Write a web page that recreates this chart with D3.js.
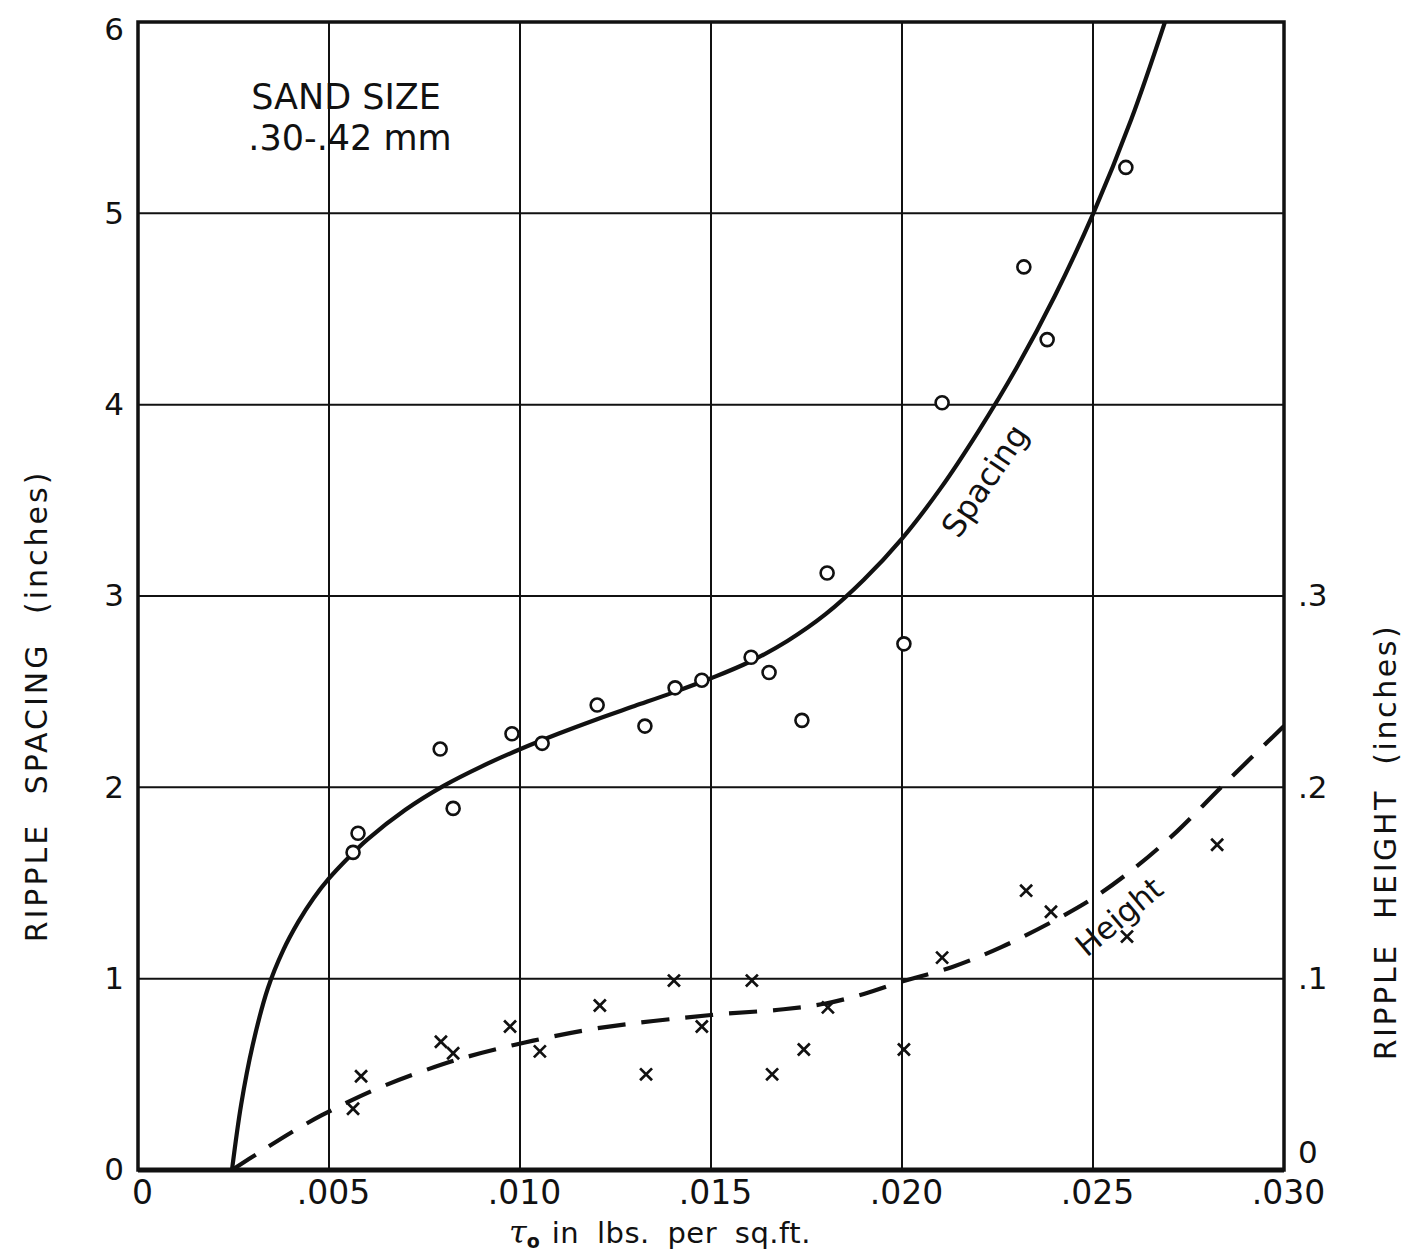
<!DOCTYPE html>
<html>
<head>
<meta charset="utf-8">
<script src="https://cdn.jsdelivr.net/npm/d3@7"></script>
<style>
  body { margin: 0; background: #fff; }
  text { font-family: "DejaVu Sans", sans-serif; fill: #111; }
</style>
</head>
<body>
<svg id="chart" width="1403" height="1252"></svg>
<script>
// shear stress (lbs per sq ft) for the spacing circles
var spacingX = [.00563, .00576, .00791, .00825, .00979, .01058, .01202, .01327, .01406, .01476,
                .01605, .01652, .01738, .01804, .02005, .02105, .02319, .02380, .02586];
var spacingY = [1.66, 1.76, 2.20, 1.89, 2.28, 2.23, 2.43, 2.32, 2.52, 2.56,
                2.68, 2.60, 2.35, 3.12, 2.75, 4.01, 4.72, 4.34, 5.24];

// ripple height crosses (inches, right axis)
var heightX = [.00563, .00584, .00793, .00825, .00974, .01052, .01209, .01330, .01403, .01476,
               .01607, .01660, .01743, .01806, .02005, .02105, .02325, .02390, .02589, .02825];
var heightY = [.032, .049, .067, .061, .075, .062, .086, .050, .099, .075,
               .099, .050, .063, .085, .063, .111, .146, .135, .122, .170];

// fitted curves as drawn on the sheet
var spacingCurveX = [.00246, .0027, .0030, .0034, .0038, .0042, .0046, .0050, .0055, .0060, .0070,
                     .0080, .0090, .0100, .0110, .0120, .0130, .0140, .0150, .0160, .0170, .0180,
                     .0190, .0200, .0210, .0220, .0230, .0240, .0250, .0260, .0270];
var spacingCurveY = [0, .342, .651, .950, 1.148, 1.298, 1.422, 1.524, 1.631, 1.727, 1.883,
                     2.008, 2.110, 2.199, 2.280, 2.355, 2.425, 2.495, 2.570, 2.655, 2.765, 2.905,
                     3.085, 3.300, 3.560, 3.861, 4.193, 4.568, 4.996, 5.490, 6.070];

var heightCurveX = [.00246, .0032, .0040, .0048, .0056, .0065, .0075, .0085, .0101, .0120, .0150,
                    .0169, .0180, .0190, .0200, .0213, .0226, .0240, .0250, .0261, .0272, .0284, .0300];
var heightCurveY = [0, .0095, .0195, .0285, .0365, .0445, .0520, .0585, .0665, .0740, .0810,
                    .0840, .0870, .0920, .0985, .1060, .1165, .1305, .1420, .1580, .1770, .2010, .2320];

var xTicks = [0, .005, .010, .015, .020, .025, .030];
var yTicks = [0, 1, 2, 3, 4, 5, 6];
var y2Ticks = [0, .1, .2, .3];

var svg = d3.select("#chart");
svg.append("rect").attr("width", 1403).attr("height", 1252).attr("fill", "#fff");

var x = d3.scaleLinear().domain([0, 0.030]).range([138, 1284]);
var y = d3.scaleLinear().domain([0, 6]).range([1170, 22]);
var y2 = d3.scaleLinear().domain([0, 0.6]).range([1170, 22]);

svg.append("clipPath").attr("id", "plotclip")
    .append("rect")
    .attr("x", x(0)).attr("y", y(6))
    .attr("width", x(0.030) - x(0)).attr("height", y(0) - y(6));

// grid
var grid = svg.append("g").attr("stroke", "#111").attr("stroke-width", 2);
grid.selectAll("line.v")
    .data(xTicks.slice(1, -1))
    .enter().append("line")
        .attr("x1", function(d) { return x(d); })
        .attr("x2", function(d) { return x(d); })
        .attr("y1", y(6)).attr("y2", y(0));
grid.selectAll("line.h")
    .data(yTicks.slice(1, -1))
    .enter().append("line")
        .attr("x1", x(0)).attr("x2", x(0.030))
        .attr("y1", function(d) { return y(d); })
        .attr("y2", function(d) { return y(d); });

// frame
svg.append("rect")
    .attr("x", x(0)).attr("y", y(6))
    .attr("width", x(0.030) - x(0)).attr("height", y(0) - y(6))
    .attr("fill", "none").attr("stroke", "#111").attr("stroke-width", 3.5);
svg.append("line")
    .attr("x1", x(0)).attr("x2", x(0.030))
    .attr("y1", y(0)).attr("y2", y(0))
    .attr("stroke", "#111").attr("stroke-width", 5);

// axes (labels only)
var xAxis = svg.append("g")
    .attr("transform", "translate(4, 1170)")
    .call(d3.axisBottom(x).tickValues(xTicks).tickSize(0)
        .tickFormat(function(d) { return d === 0 ? "0" : d3.format(".3f")(d).replace(/^0/, ""); }));
xAxis.select(".domain").remove();
xAxis.selectAll("text").attr("y", 34).attr("dy", 0)
    .style("font-size", "33px").style("font-family", "DejaVu Sans").attr("fill", "#111");

var yAxis = svg.append("g")
    .attr("transform", "translate(124, 0)")
    .call(d3.axisLeft(y).tickValues(yTicks).tickSize(0).tickFormat(d3.format("d")));
yAxis.select(".domain").remove();
yAxis.selectAll("text").attr("x", 0)
    .style("font-size", "31px").style("font-family", "DejaVu Sans").attr("fill", "#111");
yAxis.selectAll(".tick").filter(function(d) { return d === 6; })
    .select("text").attr("dy", "0.55em");

var y2Axis = svg.append("g")
    .attr("transform", "translate(1298, 0)")
    .call(d3.axisRight(y2).tickValues(y2Ticks).tickSize(0)
        .tickFormat(function(d) { return d === 0 ? "0" : "." + Math.round(d * 10); }));
y2Axis.select(".domain").remove();
y2Axis.selectAll("text").attr("x", 0)
    .style("font-size", "31px").style("font-family", "DejaVu Sans").attr("fill", "#111");
y2Axis.selectAll(".tick").filter(function(d) { return d === 0; })
    .select("text").attr("dy", "-0.25em");

// curves
var spacingLine = d3.line()
    .x(function(d) { return x(d[0]); })
    .y(function(d) { return y(d[1]); })
    .curve(d3.curveCatmullRom.alpha(0.5));
var heightLine = d3.line()
    .x(function(d) { return x(d[0]); })
    .y(function(d) { return y2(d[1]); })
    .curve(d3.curveCatmullRom.alpha(0.5));

var curves = svg.append("g").attr("clip-path", "url(#plotclip)");
curves.append("path")
    .datum(d3.zip(spacingCurveX, spacingCurveY))
    .attr("d", spacingLine)
    .attr("fill", "none").attr("stroke", "#111").attr("stroke-width", 4.2);
curves.append("path")
    .datum(d3.zip(heightCurveX, heightCurveY))
    .attr("d", heightLine)
    .attr("fill", "none").attr("stroke", "#111").attr("stroke-width", 4.2)
    .attr("stroke-dasharray", "28,16");

// points
svg.append("g")
    .selectAll("circle")
    .data(d3.zip(spacingX, spacingY))
    .enter().append("circle")
        .attr("cx", function(d) { return x(d[0]); })
        .attr("cy", function(d) { return y(d[1]); })
        .attr("r", 6.5)
        .attr("fill", "#fff").attr("stroke", "#111").attr("stroke-width", 2.6);

svg.append("g")
    .selectAll("path")
    .data(d3.zip(heightX, heightY))
    .enter().append("path")
        .attr("transform", function(d) { return "translate(" + x(d[0]) + "," + y2(d[1]) + ")"; })
        .attr("d", d3.symbol(d3.symbolTimes, 95))
        .attr("fill", "none").attr("stroke", "#111").attr("stroke-width", 2.7);

// annotations
var note = svg.append("g").style("font-size", "35px");
note.append("text").attr("x", 346).attr("y", 109).attr("text-anchor", "middle").text("SAND SIZE");
note.append("text").attr("x", 350).attr("y", 150).attr("text-anchor", "middle").text(".30-.42 mm");

svg.append("text")
    .attr("transform", "translate(994, 487) rotate(-56)")
    .attr("text-anchor", "middle")
    .style("font-size", "32px")
    .text("Spacing");
svg.append("text")
    .attr("transform", "translate(1126, 925) rotate(-40)")
    .attr("text-anchor", "middle")
    .style("font-size", "31px")
    .text("Height");

// axis titles
svg.append("text")
    .attr("transform", "translate(47, 706) rotate(-90)")
    .attr("text-anchor", "middle")
    .style("font-size", "30px").style("letter-spacing", "3px").style("word-spacing", "16px")
    .text("RIPPLE SPACING (inches)");
svg.append("text")
    .attr("transform", "translate(1396, 842) rotate(-90)")
    .attr("text-anchor", "middle")
    .style("font-size", "30px").style("letter-spacing", "2.6px").style("word-spacing", "12px")
    .text("RIPPLE HEIGHT (inches)");

var xt = svg.append("text").attr("x", 509).attr("y", 1243).style("font-size", "29px");
xt.append("tspan").style("font-style", "italic").style("font-size", "32px").style("font-family", "DejaVu Serif").text("τ");
xt.append("tspan").attr("dy", 5).style("font-size", "19px").style("font-weight", "bold").text("o");
xt.append("tspan").attr("dy", -5).attr("dx", 12).style("word-spacing", "8px").style("letter-spacing", "0.5px")
    .text("in lbs. per sq.ft.");
</script>
</body>
</html>
